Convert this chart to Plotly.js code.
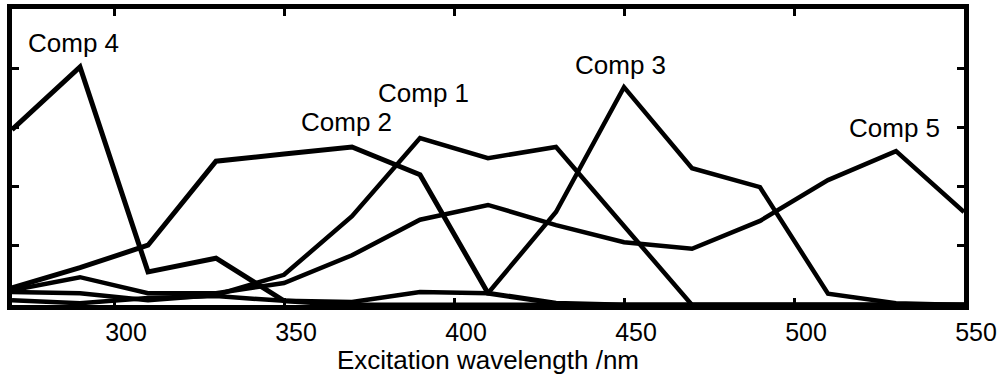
<!DOCTYPE html>
<html>
<head>
<meta charset="utf-8">
<script src="https://cdn.plot.ly/plotly-3.0.1.min.js"></script>
<style>html,body{margin:0;padding:0;background:#fff;}#chart{width:1007px;height:375px;}</style>
</head>
<body>
<div id="chart"></div>
<script>
// Excitation wavelengths (nm)
var wavelengths = [270, 290, 310, 330, 350, 370, 390, 410, 430, 450, 470, 490, 510, 530, 550];
// Excitation loadings (arbitrary units) for each component
var comp1 = [0.22, 0.20, 0.08, 0.17, 0.51, 1.50, 2.82, 2.48, 2.67, 1.33, 0.00, 0.00, 0.00, 0.00, 0.00];
var comp2 = [0.29, 0.63, 1.01, 2.43, 2.55, 2.67, 2.20, 0.20, 0.03, 0.00, 0.00, 0.00, 0.00, 0.00, 0.00];
var comp3 = [0.08, 0.03, 0.12, 0.15, 0.07, 0.05, 0.22, 0.20, 1.57, 3.68, 2.31, 1.99, 0.19, 0.03, 0.00];
var comp4 = [2.96, 4.02, 0.56, 0.79, 0.07, 0.00, 0.00, 0.00, 0.00, 0.00, 0.00, 0.00, 0.00, 0.00, 0.00];
var comp5 = [0.25, 0.47, 0.20, 0.20, 0.37, 0.84, 1.44, 1.69, 1.35, 1.06, 0.95, 1.42, 2.11, 2.60, 1.57];
var seriesNames = ["Comp 1", "Comp 2", "Comp 3", "Comp 4", "Comp 5"];
var xTickVals = [300, 350, 400, 450, 500, 550];
var xTickText = ["300", "350", "400", "450", "500", "550"];

var allSeries = [comp1, comp2, comp3, comp4, comp5];
var widths = [4.5, 5, 4.5, 5, 4.5];
var traces = allSeries.map(function (s, i) {
  return {
    x: wavelengths, y: s, type: "scatter", mode: "lines", name: seriesNames[i],
    line: {color: "#000", width: widths[i]}, cliponaxis: true, hoverinfo: "skip"
  };
});

// label anchor positions (data coords)
var labelPos = [[390.9, 3.58], [368.5, 3.09], [449.1, 4.05], [288.2, 4.43], [529.7, 2.99]];
var annotations = seriesNames.map(function (n, i) {
  return {x: labelPos[i][0], y: labelPos[i][1], xref: "x", yref: "y", text: n, showarrow: false,
          xanchor: "center", yanchor: "middle", font: {family: "Liberation Sans, Arial, sans-serif", size: 26, color: "#000"}};
});

var layout = {
  width: 1007, height: 375,
  margin: {l: 12, r: 43, t: 9, b: 70, pad: 0},
  paper_bgcolor: "#fff", plot_bgcolor: "#fff",
  showlegend: false,
  font: {family: "Liberation Sans, Arial, sans-serif", color: "#000"},
  xaxis: {
    range: [270, 550], tickvals: xTickVals, ticktext: xTickText,
    ticks: "inside", ticklen: 7, tickwidth: 3, tickcolor: "#000",
    showline: true, linewidth: 5, linecolor: "#000", mirror: "ticks",
    showgrid: false, zeroline: false,
    tickfont: {size: 25, color: "#000"}, ticklabelshift: 12, ticklabelstandoff: 1,
    title: {text: "Excitation wavelength /nm", font: {size: 26, color: "#000"}, standoff: 8}
  },
  yaxis: {
    range: [0, 5], tickvals: [1, 2, 3, 4], showticklabels: false,
    ticks: "inside", ticklen: 7, tickwidth: 3, tickcolor: "#000",
    showline: true, linewidth: 5, linecolor: "#000", mirror: "ticks",
    showgrid: false, zeroline: false
  },
  annotations: annotations
};

Plotly.newPlot("chart", traces, layout, {staticPlot: true, displayModeBar: false});
</script>
</body>
</html>
